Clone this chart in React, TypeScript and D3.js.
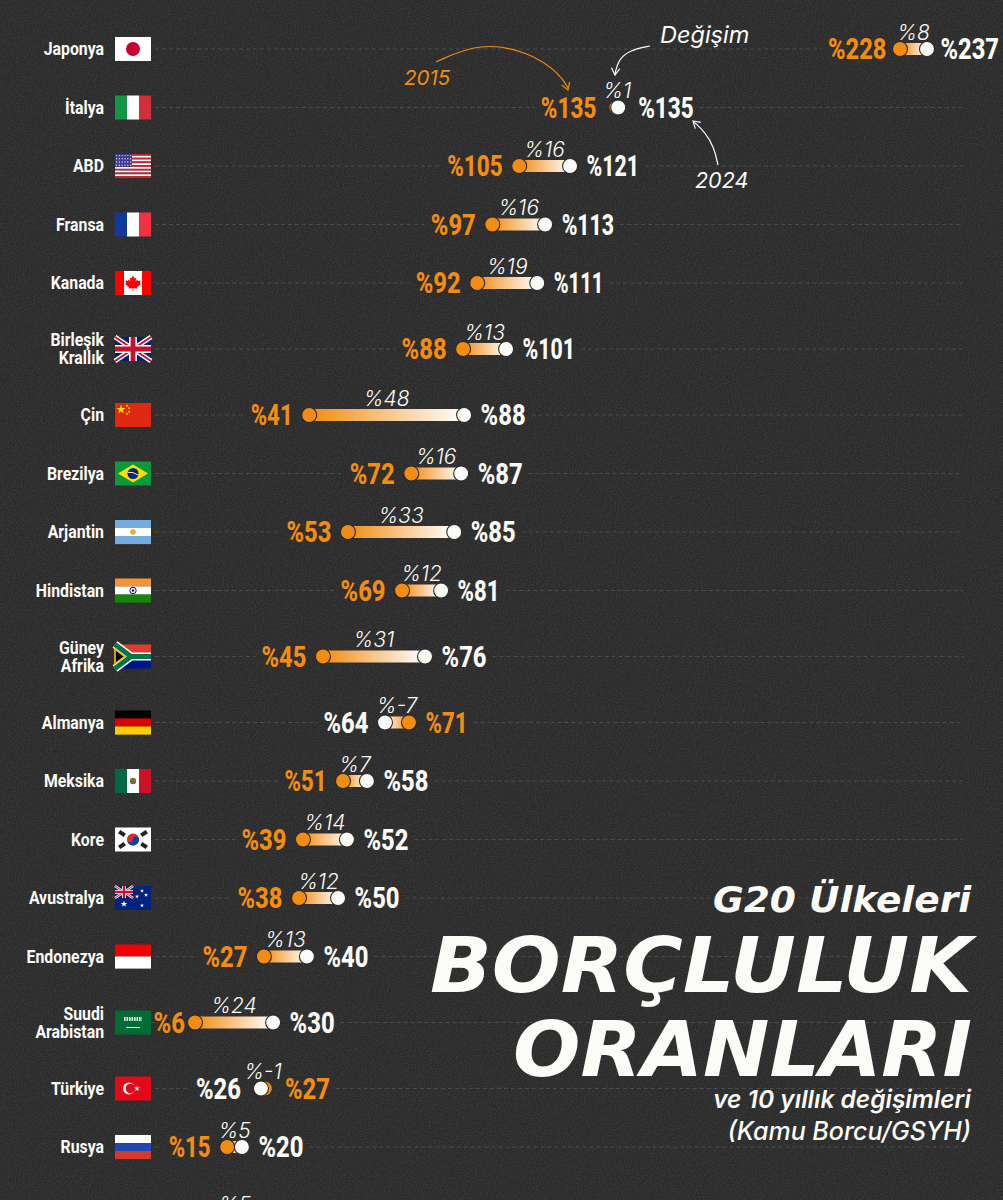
import React from "react";
import * as d3 from "d3";

const WIDTH = 1003;
const HEIGHT = 1200;

const countries = ["Japonya","İtalya","ABD","Fransa","Kanada","Birleşik\nKrallık","Çin","Brezilya","Arjantin","Hindistan","Güney\nAfrika","Almanya","Meksika","Kore","Avustralya","Endonezya","Suudi\nArabistan","Türkiye","Rusya"];
const flagCodes = ["jp","it","us","fr","ca","gb","cn","br","ar","in","za","de","mx","kr","au","id","sa","tr","ru"];
// printed percentages
const labels2015 = [228,135,105,97,92,88,41,72,53,69,45,71,51,39,38,27,6,27,15];
const labels2024 = [237,135,121,113,111,101,88,87,85,81,76,64,58,52,50,40,30,26,20];
const changes = ["%8","%1","%16","%16","%19","%13","%48","%16","%33","%12","%31","%-7","%7","%14","%12","%13","%24","%-1","%5"];
// unrounded positions of the dots
const debt2015 = [228,134.8,105.2,97,92.4,88.1,41.2,72.3,53,69.5,45.4,71.6,51.5,39.3,38.1,27.4,6.4,27.7,16.2];
const debt2024 = [237,135.4,120.7,113.1,110.7,101.2,88.4,87.5,85.4,81.4,76.5,64.3,58.8,52.7,50,40.5,30.2,26.5,20.7];

const ORANGE = "#f28c12";
const WHITE = "#fbfbf7";
const BG = "#2a2a2a";
const CONDENSED = "Roboto, sans-serif";
const WIDE = "'DejaVu Sans', sans-serif";
const SOFT = "Inter, sans-serif";

// Japan sits on a shortened stretch of the axis
const x = d3.scaleLinear().domain([0, 135, 228, 237]).range([174, 617, 900, 927]);

const isTwoLine = (i: number) => i >= 0 && i < countries.length && countries[i].includes("\n");
const rowY: number[] = [];
countries.forEach((_, i) => {
  if (i === 0) rowY.push(49);
  else rowY.push(rowY[i - 1] + 58.5 + (isTwoLine(i) || isTwoLine(i - 1) ? 7.5 : 0));
});

const star = (cx: number, cy: number, size: number, fill = "#fff") => (
  <path d={d3.symbol().type(d3.symbolStar).size(size)() || ""} transform={`translate(${cx},${cy})`} fill={fill} />
);

function UnionJack({ w, h }: { w: number; h: number }) {
  return (
    <g>
      <rect width={w} height={h} fill="#012169" />
      <path d={`M0,0L${w},${h}M${w},0L0,${h}`} stroke="#fff" strokeWidth={h * 0.2} />
      <path d={`M0,0L${w},${h}M${w},0L0,${h}`} stroke="#c8102e" strokeWidth={h * 0.08} />
      <path d={`M${w / 2},0V${h}M0,${h / 2}H${w}`} stroke="#fff" strokeWidth={h * 0.33} />
      <path d={`M${w / 2},0V${h}M0,${h / 2}H${w}`} stroke="#c8102e" strokeWidth={h * 0.2} />
    </g>
  );
}

function Bands({ colors, vertical }: { colors: string[]; vertical?: boolean }) {
  const s = vertical ? 36 / colors.length : 24 / colors.length;
  return (
    <g>
      {colors.map((c, i) => vertical
        ? <rect key={i} x={i * s} width={s + 0.1} height={24} fill={c} />
        : <rect key={i} y={i * s} width={36} height={s + 0.1} fill={c} />)}
    </g>
  );
}

function Flag({ code }: { code: string }) {
  switch (code) {
    case "jp":
      return <g><rect width={36} height={24} fill="#fff" /><circle cx={18} cy={12} r={7} fill="#c8002f" /></g>;
    case "it":
      return <Bands vertical colors={["#0f9647", "#fff", "#d22f3b"]} />;
    case "fr":
      return <Bands vertical colors={["#10399e", "#fff", "#ef3340"]} />;
    case "us":
      return (
        <g>
          <Bands colors={d3.range(13).map(i => i % 2 ? "#fff" : "#c0272f")} />
          <rect width={17} height={13} fill="#3c3b8e" />
          {d3.range(4).map(r => d3.range(6).map(c => (
            <circle key={`${r}-${c}`} cx={1.6 + c * 2.8} cy={1.6 + r * 3.2} r={0.7} fill="#d8d8ff" />
          )))}
        </g>
      );
    case "ca":
      return (
        <g>
          <Bands vertical colors={["#f00", "#fff", "#fff", "#f00"]} />
          <path d="M18,4.5L19.6,7.4L21.2,6.6L20.6,10.3L22.6,8.6L23,10L25.6,9.6L24.8,12.2L26,13L22,16.2L22.4,17.6L18.4,17.2V20H17.6V17.2L13.6,17.6L14,16.2L10,13L11.2,12.2L10.4,9.6L13,10L13.4,8.6L15.4,10.3L14.8,6.6L16.4,7.4Z" fill="#f00" />
        </g>
      );
    case "gb":
      return <UnionJack w={36} h={24} />;
    case "cn":
      return (
        <g>
          <rect width={36} height={24} fill="#de2910" />
          {star(6, 6.5, 26, "#ffde00")}
          {star(12, 2.8, 3, "#ffde00")}
          {star(14, 5.2, 3, "#ffde00")}
          {star(14, 8.6, 3, "#ffde00")}
          {star(12, 11, 3, "#ffde00")}
        </g>
      );
    case "br":
      return (
        <g>
          <rect width={36} height={24} fill="#0a9a3a" />
          <path d="M18,3L33,12L18,21L3,12Z" fill="#fedf00" />
          <circle cx={18} cy={12} r={5.5} fill="#002776" />
          <path d="M12.8,10.8Q18,10 23.2,13.6" stroke="#fff" strokeWidth={0.9} fill="none" />
        </g>
      );
    case "ar":
      return (
        <g>
          <Bands colors={["#74acdf", "#fff", "#74acdf"]} />
          <circle cx={18} cy={12} r={2.8} fill="#f0a92a" />
        </g>
      );
    case "in":
      return (
        <g>
          <Bands colors={["#f79533", "#fff", "#138808"]} />
          <circle cx={18} cy={12} r={3.2} fill="none" stroke="#000080" strokeWidth={1} />
          <circle cx={18} cy={12} r={1.2} fill="#000080" />
        </g>
      );
    case "za":
      return (
        <g>
          <rect width={36} height={12} fill="#e03c31" />
          <rect y={12} width={36} height={12} fill="#001489" />
          <path d="M0,0L16,12L0,24M16,12H36" fill="none" stroke="#fff" strokeWidth={8} />
          <path d="M0,0L16,12L0,24M16,12H36" fill="none" stroke="#007749" strokeWidth={5} />
          <path d="M0,4.5L10,12L0,19.5Z" fill="#000" stroke="#ffb81c" strokeWidth={1.6} />
        </g>
      );
    case "de":
      return <Bands colors={["#000", "#dd0000", "#ffce00"]} />;
    case "mx":
      return (
        <g>
          <Bands vertical colors={["#006847", "#fff", "#ce1126"]} />
          <circle cx={18} cy={12} r={3.2} fill="#8c6a3a" />
          <circle cx={18} cy={13.5} r={1.5} fill="#3f7a4d" />
        </g>
      );
    case "kr":
      return (
        <g>
          <rect width={36} height={24} fill="#fff" />
          <circle cx={18} cy={12} r={6} fill="#cd2e3a" />
          <path d="M12,12A6,6 0 0 0 24,12A3,3 0 0 0 18,12A3,3 0 0 1 12,12Z" fill="#0047a0" />
          {[[7, 6, 35], [29, 6, -35], [7, 18, -35], [29, 18, 35]].map(([cx, cy, a], i) => (
            <rect key={i} x={cx - 3.4} y={cy - 2} width={6.8} height={4} fill="#222" transform={`rotate(${a} ${cx} ${cy})`} />
          ))}
        </g>
      );
    case "au":
      return (
        <g>
          <rect width={36} height={24} fill="#00247d" />
          <UnionJack w={18} h={12} />
          {star(9, 18, 14)}
          {star(27, 5, 5)}
          {star(22, 10.5, 5)}
          {star(31, 9, 5)}
          {star(27, 19.5, 5)}
        </g>
      );
    case "id":
      return <Bands colors={["#f00000", "#fff"]} />;
    case "sa":
      return (
        <g>
          <rect width={36} height={24} fill="#006c35" />
          <path d="M9,7.5H27M9,9.6H27" stroke="#e6f2ea" strokeWidth={2} strokeDasharray="1.6 0.9" />
          <path d="M12,17H25M12,16.2V17.8" stroke="#fff" strokeWidth={0.9} fill="none" />
        </g>
      );
    case "tr":
      return (
        <g>
          <rect width={36} height={24} fill="#e30a17" />
          <circle cx={14} cy={12} r={6} fill="#fff" />
          <circle cx={15.5} cy={12} r={4.8} fill="#e30a17" />
          {star(22, 12, 10)}
        </g>
      );
    case "ru":
      return <Bands colors={["#fff", "#1f49b0", "#d63a2a"]} />;
    default:
      return null;
  }
}

function Narrow({ x: tx, y, sx, children, ...rest }: any) {
  return <text transform={`translate(${tx},${y}) scale(${sx},1)`} {...rest}>{children}</text>;
}

// the reference font has a narrow "1"; roboto's figures are all one width
function labelWidth(s: string) {
  let w = 18;
  for (const ch of s.slice(1)) w += ch === "1" ? 10.5 : 13.5;
  return w;
}

function ValueLabel({ tx, y, text, color, anchor }: any) {
  return (
    <text x={tx} y={y} textAnchor={anchor} textLength={labelWidth(text)} lengthAdjust="spacingAndGlyphs"
      fontFamily={CONDENSED} fontWeight={800} fontSize={30} fill={color}>{text}</text>
  );
}

// how far a value label sits from its dot
function labelGap(i: number, left: boolean) {
  if (countries[i] === "Japonya") return 13.5;
  if (countries[i].startsWith("Suudi") && left) return 10;
  if (Math.abs(debt2015[i] - debt2024[i]) < 2) return 20;
  return 16.5;
}

const curve = d3.line().curve(d3.curveBasis);
const arrowHead = (tip: [number, number], angle: number, color: string) => {
  const a = (angle * Math.PI) / 180, L = 8;
  const p1 = [tip[0] - L * Math.cos(a - 0.55), tip[1] - L * Math.sin(a - 0.55)];
  const p2 = [tip[0] - L * Math.cos(a + 0.55), tip[1] - L * Math.sin(a + 0.55)];
  return <path d={`M${p1}L${tip}L${p2}`} fill="none" stroke={color} strokeWidth={1.2} />;
};

const arrow2015: [number, number][] = [[436, 62], [480, 42], [530, 52], [560, 74], [568, 88]];
const arrowChange: [number, number][] = [[650, 46], [630, 50], [618, 60], [615, 74]];
const arrow2024: [number, number][] = [[718, 165], [714, 147], [705, 132], [694, 122]];

export default function App() {
  return (
    <svg width={WIDTH} height={HEIGHT} style={{ position: "absolute", left: 0, top: 0 }}>
      <defs>
        <filter id="grain" x="0" y="0" width="100%" height="100%">
          <feTurbulence type="fractalNoise" baseFrequency="0.85" numOctaves={2} seed={3} />
          <feColorMatrix type="matrix" values="0 0 0 0 1  0 0 0 0 1  0 0 0 0 1  0.5 0 0 0 -0.17" />
        </filter>
        {countries.map((_, i) => (
          <linearGradient key={i} id={`bar${i}`} gradientUnits="userSpaceOnUse" x1={x(debt2015[i])} x2={x(debt2024[i])} y1={0} y2={0}>
            <stop offset="0" stopColor={ORANGE} />
            <stop offset="1" stopColor="#fff" />
          </linearGradient>
        ))}
      </defs>
      <rect width={WIDTH} height={HEIGHT} fill={BG} />
      <rect width={WIDTH} height={HEIGHT} filter="url(#grain)" opacity={0.35} />

      {countries.map((name, i) => {
        const y = rowY[i];
        const a = x(debt2015[i]);
        const b = x(debt2024[i]);
        const lo = Math.min(a, b);
        const hi = Math.max(a, b);
        const leftIsOrange = a <= b;
        const leftLabel = `%${leftIsOrange ? labels2015[i] : labels2024[i]}`;
        const rightLabel = `%${leftIsOrange ? labels2024[i] : labels2015[i]}`;
        const leftX = lo - labelGap(i, true);
        const rightX = hi + labelGap(i, false);
        const lines = name.split("\n");
        return (
          <g key={name}>
            <path d={`M155,${y}H${leftX - labelWidth(leftLabel) - 6}${rightX + labelWidth(rightLabel) + 6 < 963 ? `M${rightX + labelWidth(rightLabel) + 6},${y}H963` : ""}`}
              stroke="#fff" strokeOpacity={0.13} strokeDasharray="4 3" />
            {lines.map((l, k) => (
              <Narrow key={k} x={104} y={y + 6 + (k - (lines.length - 1) / 2) * 18} sx={0.88} textAnchor="end"
                fontFamily={CONDENSED} fontWeight={700} fontSize={18} fill={WHITE}>{l}</Narrow>
            ))}
            <g transform={`translate(115,${y - 12})`}>
              <Flag code={flagCodes[i]} />
            </g>
            <rect x={lo} y={y - 6} width={hi - lo} height={12} fill={`url(#bar${i})`} />
            <circle cx={a} cy={y} r={7.5} fill={ORANGE} stroke={BG} strokeWidth={1.1} />
            <circle cx={b} cy={y} r={7.5} fill={WHITE} stroke={BG} strokeWidth={1.1} />
            <ValueLabel tx={leftX} y={y + 10} text={leftLabel} anchor="end" color={leftIsOrange ? ORANGE : WHITE} />
            <ValueLabel tx={rightX} y={y + 10} text={rightLabel} anchor="start" color={leftIsOrange ? WHITE : ORANGE} />
            <text x={(a + b) / 2} y={y - 9.5} textAnchor="middle" fontFamily={SOFT} fontStyle="italic" fontWeight={300} fontSize={21}
              fill={WHITE}>{changes[i]}</text>
          </g>
        );
      })}

      {/* next row, cut off by the bottom of the picture */}
      <text x={235} y={1212} textAnchor="middle" fontFamily={SOFT} fontStyle="italic" fontWeight={300} fontSize={21} fill={WHITE}>%5</text>

      <text x={404} y={85} fontFamily={SOFT} fontStyle="italic" fontSize={20.5} fontWeight={400} fill={ORANGE}>2015</text>
      <path d={curve(arrow2015) || ""} fill="none" stroke={ORANGE} strokeWidth={1.2} />
      {arrowHead([568, 90], 70, ORANGE)}
      <text x={660} y={43} fontFamily={SOFT} fontStyle="italic" fontSize={23.5} fontWeight={400} fill={WHITE}>Değişim</text>
      <path d={curve(arrowChange) || ""} fill="none" stroke={WHITE} strokeWidth={1.2} />
      {arrowHead([615, 75], 95, WHITE)}
      <text x={695} y={188} fontFamily={SOFT} fontStyle="italic" fontSize={21.5} fontWeight={400} fill={WHITE}>2024</text>
      <path d={curve(arrow2024) || ""} fill="none" stroke={WHITE} strokeWidth={1.2} />
      {arrowHead([693, 121], 222, WHITE)}

      <text x={971} y={912} textAnchor="end" textLength={258} lengthAdjust="spacingAndGlyphs" fontFamily={WIDE} fontStyle="italic" fontWeight={700} fontSize={36} fill={WHITE}>G20 Ülkeleri</text>
      <text x={430} y={992} textLength={542} lengthAdjust="spacingAndGlyphs" fontFamily={WIDE} fontStyle="italic" fontWeight={700} fontSize={77} fill={WHITE}>BORÇLULUK</text>
      <text x={513} y={1076} textLength={459} lengthAdjust="spacingAndGlyphs" fontFamily={WIDE} fontStyle="italic" fontWeight={700} fontSize={77} fill={WHITE}>ORANLARI</text>
      <text x={971} y={1108} textAnchor="end" fontFamily={SOFT} fontStyle="italic" fontWeight={600} fontSize={24.5} fill={WHITE}>ve 10 yıllık değişimleri</text>
      <text x={971} y={1140} textAnchor="end" fontFamily={SOFT} fontStyle="italic" fontWeight={500} fontSize={25} fill={WHITE}>(Kamu Borcu/GSYH)</text>
    </svg>
  );
}
